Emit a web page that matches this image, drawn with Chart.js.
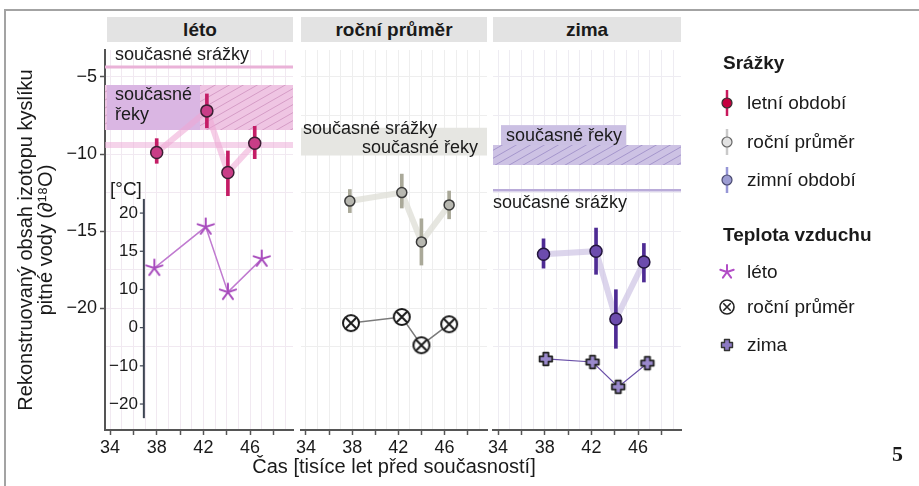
<!DOCTYPE html>
<html lang="cs">
<head>
<meta charset="utf-8">
<title>Rekonstruovaný obsah izotopu kyslíku</title>
<script src="https://cdn.jsdelivr.net/npm/chart.js@4.4.1/dist/chart.umd.min.js"></script>
<style>
  html, body { margin: 0; padding: 0; background: #fff; }
  #wrap { position: relative; width: 919px; height: 486px; overflow: hidden;
          font-family: "Liberation Sans", Arial, sans-serif; color: #1a1a1a; }
  #wrap canvas { position: absolute; left: 0; top: 0; }
  .frame { position: absolute; left: 4px; top: 9px; width: 940px; height: 500px;
           border-left: 2px solid #a3a3a3; border-top: 2px solid #a3a3a3; }
  .strip { position: absolute; top: 17px; height: 25px; line-height: 25px; background: #e3e3e3;
           text-align: center; font-weight: bold; font-size: 19px; }
  .lg { position: absolute; left: 747px; font-size: 19px; line-height: 22px; white-space: nowrap; }
  .lg.t { left: 723px; font-weight: bold; }
  .lg svg { position: absolute; left: -30px; top: -4px; }
  .num { position: absolute; left: 892px; top: 441px; font: bold 22px "Liberation Serif", "DejaVu Serif", serif; }
</style>
</head>
<body>
<div id="wrap">
  <div class="frame"></div>
  <div class="strip" style="left:107px;width:186px">léto</div>
  <div class="strip" style="left:301px;width:186px">roční průměr</div>
  <div class="strip" style="left:493px;width:188px">zima</div>

  <canvas id="p1" width="919" height="486"></canvas>
  <canvas id="p2" width="919" height="486"></canvas>
  <canvas id="p3" width="919" height="486"></canvas>

  <div class="lg t" style="top:52px">Srážky</div>
  <div class="lg" style="top:92px"><svg width="20" height="30"><line x1="10" y1="2" x2="10" y2="28" stroke="#c8185c" stroke-width="2.5"/><circle cx="10" cy="15" r="5" fill="#c4003f" stroke="#333" stroke-width="1.2"/></svg>letní období</div>
  <div class="lg" style="top:131px"><svg width="20" height="30"><line x1="10" y1="2" x2="10" y2="28" stroke="#c9c9c9" stroke-width="2.5"/><circle cx="10" cy="15" r="5" fill="#e2e2e2" stroke="#666" stroke-width="1.2"/></svg>roční průměr</div>
  <div class="lg" style="top:169px"><svg width="20" height="30"><line x1="10" y1="2" x2="10" y2="28" stroke="#9696d6" stroke-width="2.5"/><circle cx="10" cy="15" r="5" fill="#9c9cd2" stroke="#4a4a70" stroke-width="1.2"/></svg>zimní období</div>
  <div class="lg t" style="top:224px">Teplota vzduchu</div>
  <div class="lg" style="top:261px"><svg width="20" height="30"><g stroke="#b24dc6" stroke-width="2" stroke-linecap="round"><line x1="10" y1="15" x2="10" y2="8"/><line x1="10" y1="15" x2="16.7" y2="12.8"/><line x1="10" y1="15" x2="14.1" y2="20.7"/><line x1="10" y1="15" x2="5.9" y2="20.7"/><line x1="10" y1="15" x2="3.3" y2="12.8"/></g></svg>léto</div>
  <div class="lg" style="top:296px"><svg width="20" height="30"><circle cx="10" cy="15" r="7" fill="#fff" stroke="#222" stroke-width="1.6"/><path d="M6.3 11.3 L13.7 18.7 M13.7 11.3 L6.3 18.7" stroke="#222" stroke-width="1.6"/></svg>roční průměr</div>
  <div class="lg" style="top:334px"><svg width="20" height="30"><path d="M7.5 9.5 h5 v3 h3 v5 h-3 v3 h-5 v-3 h-3 v-5 h3 z" fill="#8c79c4" stroke="#333" stroke-width="1.4" stroke-linejoin="round"/></svg>zima</div>

  <div class="num">5</div>
</div>

<script>
  // ==== Data ====
  const PANELS = ['léto', 'roční průměr', 'zima'];
  const X_MIN = 33.57, X_MAX = 49.68;        // stáří [tis. let]
  const Y_MIN = -27.9, Y_MAX = -3.25;        // δ18O
  const X_GRID = [34, 35, 36, 37, 38, 39, 40, 41, 42, 43, 44, 45, 46, 47, 48, 49];
  const X_MARKS = [34, 36, 38, 40, 42, 44, 46, 48];
  const X_LABELS = [34, 38, 42, 46];
  const Y_GRID = [-5, -7.5, -10, -12.5, -15, -17.5, -20, -22.5];
  const Y_LABELS = [-5, -10, -15, -20];
  const TEMP_TICKS = [-20, -10, 0, 10, 15, 20]; // nerovnoměrná osa teploty

  // srážky (δ18O): průměr a rozpětí
  const AGE_LETO = [38.0, 42.3, 44.1, 46.4];
  const LETO = [-9.9, -7.2, -11.2, -9.3];
  const LETO_HI = [-9.0, -6.1, -9.8, -8.2];
  const LETO_LO = [-10.6, -8.3, -12.7, -10.3];

  const AGE_ROCNI = [37.8, 42.3, 44.0, 46.4];
  const ROCNI = [-13.05, -12.5, -15.7, -13.3];
  const ROCNI_HI = [-12.3, -11.3, -14.2, -12.4];
  const ROCNI_LO = [-13.8, -13.5, -17.2, -14.2];

  const AGE_ZIMA = [37.9, 42.4, 44.1, 46.5];
  const ZIMA = [-16.5, -16.3, -20.7, -17.0];
  const ZIMA_HI = [-15.5, -14.8, -18.8, -15.8];
  const ZIMA_LO = [-17.4, -17.8, -22.6, -18.3];

  // teplota vzduchu [°C]
  const AGE_T_LETO = [37.8, 42.2, 44.1, 47.0];
  const T_LETO = [12.8, 18.2, 9.3, 14.0];
  const AGE_T_ROCNI = [37.9, 42.3, 44.0, 46.4];
  const T_ROCNI = [1.2, 2.8, -4.6, 0.9];
  const AGE_T_ZIMA = [38.1, 42.1, 44.3, 46.8];
  const T_ZIMA = [-8.2, -9.0, -15.5, -9.3];

  // současné hodnoty (pásy)
  const SRAZKY_LETO = -4.35;
  const REKY_LETO = [-5.52, -8.44];
  const REKY_LETO_2 = [-9.22, -9.6];
  const SOUCASNE_ROCNI = [-8.3, -10.1];
  const REKY_ZIMA = [-9.42, -10.71];
  const SRAZKY_ZIMA = -12.35;

  // ==== Helpers ====
  const FONT = '"Liberation Sans", Arial, sans-serif';
  Chart.defaults.font.family = FONT;
  Chart.defaults.color = '#1a1a1a';

  const T_MIN = -0.68, T_MAX = 9.27;   // rozsah osy teploty v "dílcích" TEMP_TICKS
  const TEMP_AXIS_AT = 36.9;

  const minus = v => String(v).replace('-', '\u2212');
  const pts = (xs, ys) => xs.map((x, i) => ({ x, y: ys[i] }));

  function toSlot(v) {
    const t = TEMP_TICKS;
    let i = 0;
    while (i < t.length - 2 && v > t[i + 1]) i++;
    return i + (v - t[i]) / (t[i + 1] - t[i]);
  }

  function hatch(bg, fg, w, h) {
    const c = document.createElement('canvas');
    c.width = w; c.height = h;
    const g = c.getContext('2d');
    g.fillStyle = bg; g.fillRect(0, 0, w, h);
    g.strokeStyle = fg; g.lineWidth = 1;
    g.beginPath();
    for (const o of [-w, 0, w]) { g.moveTo(o - w, 2 * h); g.lineTo(o + 2 * w, -h); }
    g.stroke();
    return g.createPattern(c, 'repeat');
  }

  function marker(draw, size) {
    const c = document.createElement('canvas');
    c.width = c.height = size;
    draw(c.getContext('2d'), size / 2);
    return c;
  }
  const STAR = marker((g, m) => {
    g.strokeStyle = '#a84cbd'; g.lineWidth = 2; g.lineCap = 'round';
    g.beginPath();
    for (let k = 0; k < 5; k++) {
      const a = -Math.PI / 2 + k * 2 * Math.PI / 5;
      g.moveTo(m, m); g.lineTo(m + 8.5 * Math.cos(a), m + 8.5 * Math.sin(a));
    }
    g.stroke();
  }, 20);
  const OTIMES = marker((g, m) => {
    g.beginPath(); g.arc(m, m, 8, 0, Math.PI * 2);
    g.fillStyle = '#fff'; g.fill();
    g.strokeStyle = '#1a1a1a'; g.lineWidth = 2; g.stroke();
    const d = 5.2;
    g.beginPath();
    g.moveTo(m - d, m - d); g.lineTo(m + d, m + d);
    g.moveTo(m + d, m - d); g.lineTo(m - d, m + d);
    g.stroke();
  }, 22);
  const PLUS = marker((g, m) => {
    const a = 2.6, b = 6.3;
    g.beginPath();
    g.moveTo(m - a, m - b); g.lineTo(m + a, m - b); g.lineTo(m + a, m - a); g.lineTo(m + b, m - a);
    g.lineTo(m + b, m + a); g.lineTo(m + a, m + a); g.lineTo(m + a, m + b); g.lineTo(m - a, m + b);
    g.lineTo(m - a, m + a); g.lineTo(m - b, m + a); g.lineTo(m - b, m - a); g.lineTo(m - a, m - a);
    g.closePath();
    g.fillStyle = '#9a89cc'; g.fill();
    g.strokeStyle = '#222'; g.lineWidth = 1.8; g.lineJoin = 'round'; g.stroke();
  }, 20);

  function band(range, fillStyle, order, annot) {
    return { type: 'line', data: [{ x: X_MIN, y: range[0] }, { x: X_MAX, y: range[0] }],
             fill: { value: range[1] }, backgroundColor: fillStyle, borderColor: 'rgba(0,0,0,0)',
             borderWidth: 0, pointRadius: 0, order, annot: !!annot };
  }
  function hline(v, color, width, order) {
    return { type: 'line', data: [{ x: X_MIN, y: v }, { x: X_MAX, y: v }], borderColor: color,
             borderWidth: width, pointRadius: 0, fill: false, order };
  }
  function series(p) {
    return [
      { type: 'line', data: pts(p.age, p.mean), borderColor: p.conn, borderWidth: 6, pointRadius: 0, fill: false, order: 6 },
      { type: 'bar', data: p.age.map((x, i) => ({ x, y: [p.lo[i], p.hi[i]] })), backgroundColor: p.bar, barThickness: 3, order: 5 },
      { type: 'line', data: pts(p.age, p.mean), showLine: false, pointRadius: p.r, pointBackgroundColor: p.fill,
        pointBorderColor: p.edge, pointBorderWidth: 1.5, order: 4 },
      { type: 'line', yAxisID: 'yT', data: pts(p.ageT, p.temp.map(toSlot)), borderColor: p.tLine, borderWidth: p.tWidth,
        pointStyle: p.marker, pointRadius: 8, fill: false, order: 3 }
    ];
  }

  function drawTempAxis(chart) {
    const { ctx } = chart;
    const x = chart.scales.x.getPixelForValue(TEMP_AXIS_AT);
    const yT = chart.scales.yT;
    ctx.save();
    ctx.strokeStyle = '#3d4452';
    ctx.lineWidth = 2;
    ctx.beginPath();
    ctx.moveTo(x, yT.getPixelForValue(5.37));
    ctx.lineTo(x, yT.getPixelForValue(-0.37));
    ctx.stroke();
    ctx.font = '17px ' + FONT;
    ctx.textAlign = 'right';
    ctx.textBaseline = 'middle';
    ctx.fillStyle = '#1a1a1a';
    ctx.lineWidth = 1.2;
    TEMP_TICKS.forEach((t, i) => {
      const y = yT.getPixelForValue(i);
      ctx.beginPath(); ctx.moveTo(x - 4, y); ctx.lineTo(x, y); ctx.stroke();
      ctx.fillText(minus(t), x - 6, y);
    });
    ctx.font = '19px ' + FONT;
    ctx.textAlign = 'left';
    ctx.fillText('[°C]', chart.chartArea.left + 5, yT.getPixelForValue(5.6));
    ctx.restore();
  }

  // popisek osy x sdílený pod prostředním panelem (bez stlačení na šířku panelu)
  function drawXTitle(chart) {
    const { ctx, chartArea: a } = chart;
    ctx.save();
    ctx.font = '20px ' + FONT;
    ctx.textAlign = 'center';
    ctx.textBaseline = 'middle';
    ctx.fillStyle = '#1a1a1a';
    ctx.fillText('Čas [tisíce let před současností]', (a.left + a.right) / 2, chart.scales.x.bottom - 19);
    ctx.restore();
  }

  function labelsLeto(chart) {
    const { ctx, chartArea: a } = chart, y = chart.scales.y;
    ctx.save();
    ctx.font = '18px ' + FONT; ctx.textBaseline = 'middle';
    const t = y.getPixelForValue(REKY_LETO[0]), b = y.getPixelForValue(REKY_LETO[1]);
    ctx.fillStyle = '#dab6e3';
    ctx.fillRect(a.left + 2, t, 93, b - t);
    ctx.fillStyle = '#1a1a1a';
    ctx.fillText('současné srážky', a.left + 10, y.getPixelForValue(SRAZKY_LETO) - 12);
    ctx.fillText('současné', a.left + 10, t + 10);
    ctx.fillText('řeky', a.left + 10, t + 30);
    ctx.restore();
  }
  function labelsRocni(chart) {
    const { ctx, chartArea: a } = chart, y = chart.scales.y;
    ctx.save();
    ctx.font = '18px ' + FONT; ctx.textBaseline = 'middle'; ctx.fillStyle = '#1a1a1a';
    ctx.fillText('současné srážky', a.left + 2, y.getPixelForValue(SOUCASNE_ROCNI[0]) + 1);
    ctx.textAlign = 'right';
    ctx.fillText('současné řeky', a.right - 9, y.getPixelForValue(SOUCASNE_ROCNI[1]) - 8);
    ctx.restore();
  }
  function labelsZima(chart) {
    const { ctx, chartArea: a } = chart, y = chart.scales.y;
    ctx.save();
    ctx.font = '18px ' + FONT; ctx.textBaseline = 'middle';
    const t = y.getPixelForValue(REKY_ZIMA[0]);
    ctx.fillStyle = '#cbc0e3';
    ctx.fillRect(a.left + 8, t - 20, 125, 20);
    ctx.fillStyle = '#1a1a1a';
    ctx.fillText('současné řeky', a.left + 13, t - 9);
    ctx.fillText('současné srážky', a.left, y.getPixelForValue(SRAZKY_ZIMA) + 13);
    ctx.restore();
  }

  function makePanel(id, P) {
    return new Chart(document.getElementById(id), {
      type: 'line',
      data: { datasets: P.datasets },
      options: {
        responsive: false,
        animation: false,
        events: [],
        layout: { padding: { left: P.padL, right: P.padR, top: 50, bottom: 0 } },
        plugins: { legend: { display: false }, tooltip: { enabled: false } },
        scales: {
          x: {
            type: 'linear', min: X_MIN, max: X_MAX, offset: false,
            afterBuildTicks: s => { s.ticks = X_GRID.map(v => ({ value: v })); },
            afterFit: s => { s.height = 56; },
            grid: { offset: false, color: P.grid, lineWidth: 1, tickLength: 5, tickWidth: 1.5,
                    tickColor: c => X_MARKS.includes(c.tick && c.tick.value) ? '#555' : 'rgba(0,0,0,0)' },
            border: { display: true, color: '#555', width: 2 },
            ticks: { autoSkip: false, maxRotation: 0, padding: 2, color: '#1a1a1a', font: { size: 18 },
                     callback: v => X_LABELS.includes(v) ? String(v) : '' }
          },
          y: {
            type: 'linear', position: 'left', min: Y_MIN, max: Y_MAX, beginAtZero: false,
            afterBuildTicks: s => { s.ticks = Y_GRID.map(v => ({ value: v })); },
            afterFit: s => { s.width = P.yAxis ? 105 : 0; },
            grid: { color: P.grid, lineWidth: 1, drawTicks: !!P.yAxis, tickLength: 5, tickWidth: 1.5,
                    tickColor: c => Y_LABELS.includes(c.tick && c.tick.value) ? '#555' : 'rgba(0,0,0,0)' },
            border: { display: !!P.yAxis, color: '#555', width: 2 },
            ticks: { display: !!P.yAxis, padding: 3, color: '#1a1a1a', font: { size: 18 },
                     callback: v => Y_LABELS.includes(v) ? minus(v) : '' },
            title: { display: !!P.yAxis, text: ['Rekonstruovaný obsah izotopu kyslíku', 'pitné vody (∂¹⁸O)'],
                     color: '#1a1a1a', font: { size: 20, lineHeight: 1.0 }, padding: { top: 16, bottom: 0 } }
          },
          yT: { type: 'linear', display: false, min: T_MIN, max: T_MAX }
        }
      },
      plugins: [{
        id: 'panelAnnot',
        beforeDatasetsDraw(chart) { if (P.tempAxis) drawTempAxis(chart); },
        afterDatasetDraw(chart, args) {
          if (chart.data.datasets[args.index].annot) P.labels(chart);
        },
        afterDraw(chart) { if (P.xTitle) drawXTitle(chart); }
      }]
    });
  }

  // ==== Panely ====
  makePanel('p1', {
    padL: 0, padR: 919 - 293, yAxis: true, tempAxis: true, grid: '#f1e9f1', labels: labelsLeto,
    datasets: [
      hline(SRAZKY_LETO, '#eab2d8', 3, 12),
      band(REKY_LETO, hatch('#efc5e3', '#d59cc6', 14, 8), 11),
      band(REKY_LETO_2, 'rgba(236,175,216,0.55)', 10, true),
      ...series({ age: AGE_LETO, mean: LETO, hi: LETO_HI, lo: LETO_LO,
                  conn: 'rgba(238,165,212,0.55)', bar: '#c41d66', fill: '#c93d87', edge: '#3b1f33', r: 6,
                  ageT: AGE_T_LETO, temp: T_LETO, tLine: '#c07ad0', tWidth: 1.5, marker: STAR })
    ]
  });

  makePanel('p2', {
    padL: 301, padR: 919 - 487, yAxis: false, xTitle: true, grid: '#eeeeee', labels: labelsRocni,
    datasets: [
      band(SOUCASNE_ROCNI, '#e6e6e2', 10, true),
      ...series({ age: AGE_ROCNI, mean: ROCNI, hi: ROCNI_HI, lo: ROCNI_LO,
                  conn: 'rgba(222,222,214,0.75)', bar: '#aaa999', fill: '#b7b7b0', edge: '#3a3a3a', r: 5,
                  ageT: AGE_T_ROCNI, temp: T_ROCNI, tLine: '#7a7a7a', tWidth: 1.5, marker: OTIMES })
    ]
  });

  makePanel('p3', {
    padL: 493, padR: 919 - 681, yAxis: false, grid: '#eeecf2', labels: labelsZima,
    datasets: [
      hline(SRAZKY_ZIMA, '#b9abd9', 2.5, 11),
      band(REKY_ZIMA, hatch('#cdc2e4', '#a596cc', 14, 8), 10, true),
      ...series({ age: AGE_ZIMA, mean: ZIMA, hi: ZIMA_HI, lo: ZIMA_LO,
                  conn: 'rgba(205,195,228,0.7)', bar: '#4e2b94', fill: '#6c4cad', edge: '#24163e', r: 6,
                  ageT: AGE_T_ZIMA, temp: T_ZIMA, tLine: '#6a50a8', tWidth: 1.2, marker: PLUS })
    ]
  });
</script>
</body>
</html>
